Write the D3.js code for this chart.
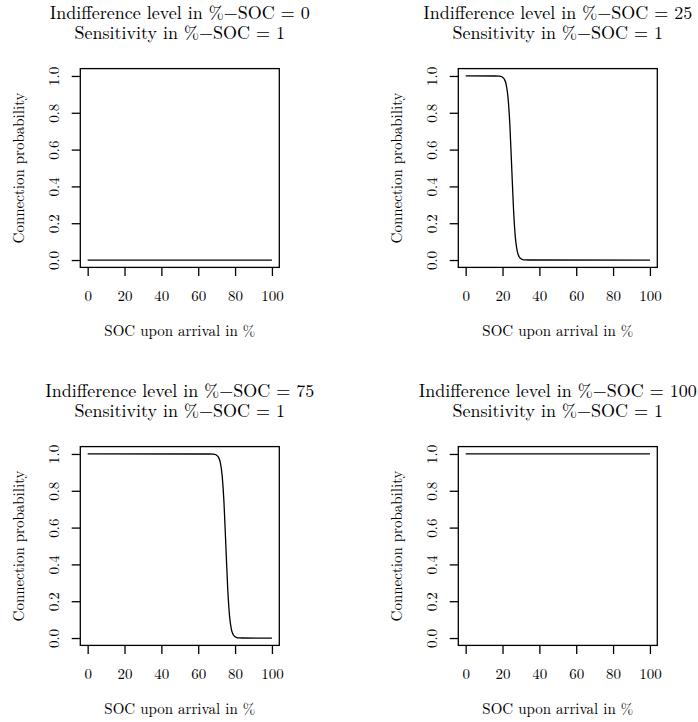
<!DOCTYPE html>
<html>
<head>
<meta charset="utf-8">
<script src="https://cdn.jsdelivr.net/npm/d3@7"></script>
<style>
  html, body { margin: 0; padding: 0; background: #fff; }
  svg { display: block; }
</style>
</head>
<body>
<svg id="chart" width="698" height="722"></svg>
<script>
// ---- data ----
const indifferenceLevels = [0, 25, 75, 100];
const sensitivities = [1, 1, 1, 1];
const xTicks = [0, 20, 40, 60, 80, 100];
const yTicks = [0.0, 0.2, 0.4, 0.6, 0.8, 1.0];
const yTickLabels = ["0.0", "0.2", "0.4", "0.6", "0.8", "1.0"];

const soc0 = [0, 100];
const prob0 = [0, 0];

const soc25 = [0, 16, 18, 19, 20, 21, 22, 23, 24, 25, 26, 27, 28, 29, 30, 31, 32, 34, 100];
const prob25 = [1, 0.9999, 0.999, 0.9975, 0.993, 0.982, 0.953, 0.881, 0.731, 0.5, 0.269, 0.119, 0.047, 0.018, 0.007, 0.0025, 0.001, 0.0001, 0];

const soc75 = [0, 66, 68, 69, 70, 71, 72, 73, 74, 75, 76, 77, 78, 79, 80, 81, 82, 84, 100];
const prob75 = [1, 0.9999, 0.999, 0.9975, 0.993, 0.982, 0.953, 0.881, 0.731, 0.5, 0.269, 0.119, 0.047, 0.018, 0.007, 0.0025, 0.001, 0.0001, 0];

const soc100 = [0, 100];
const prob100 = [1, 1];

const panels = [
  { level: indifferenceLevels[0], sens: sensitivities[0], xs: soc0, ys: prob0 },
  { level: indifferenceLevels[1], sens: sensitivities[1], xs: soc25, ys: prob25 },
  { level: indifferenceLevels[2], sens: sensitivities[2], xs: soc75, ys: prob75 },
  { level: indifferenceLevels[3], sens: sensitivities[3], xs: soc100, ys: prob100 }
];

// ---- layout ----
const FONT = "'Latin Modern Roman', 'Liberation Serif', serif";
const svg = d3.select("#chart");
const colOffset = [0, 378];
const rowOffset = [0, 378];
const plotLeft = 80.3, plotRight = 279.3, plotTop = 68.6, plotBottom = 267.4;
const baseFont = 15, titleFont = 18;

const x = d3.scaleLinear().domain([-4, 104]).range([plotLeft, plotRight]);
const y = d3.scaleLinear().domain([-0.04, 1.04]).range([plotBottom, plotTop]);

function styleText(sel, size) {
  return sel.style("font-family", FONT).style("font-size", size + "px").style("fill", "#000");
}

panels.forEach((p, i) => {
  const g = svg.append("g")
    .attr("transform", `translate(${colOffset[i % 2]},${rowOffset[Math.floor(i / 2)]})`);

  // titles
  const cx = (plotLeft + plotRight) / 2;
  styleText(g.append("text").attr("x", cx).attr("y", 19.2).attr("text-anchor", "middle"), titleFont)
    .text(`Indifference level in %\u2212SOC = ${p.level}`);
  styleText(g.append("text").attr("x", cx).attr("y", 39.4).attr("text-anchor", "middle"), titleFont)
    .text(`Sensitivity in %\u2212SOC = ${p.sens}`);

  // curve
  const line = d3.line().x((d, k) => x(p.xs[k])).y(d => y(d)).curve(d3.curveMonotoneX);
  g.append("path").datum(p.ys).attr("d", line)
    .attr("fill", "none").attr("stroke", "#000").attr("stroke-width", 1.3);

  // box
  g.append("rect").attr("x", plotLeft).attr("y", plotTop)
    .attr("width", plotRight - plotLeft).attr("height", plotBottom - plotTop)
    .attr("fill", "none").attr("stroke", "#000").attr("stroke-width", 1.3);

  // x axis
  const xa = g.append("g").attr("transform", `translate(0,${plotBottom})`)
    .call(d3.axisBottom(x).tickValues(xTicks).tickSize(8.6).tickFormat(d3.format("d")));
  xa.select(".domain").remove();
  xa.selectAll(".tick line").attr("stroke", "#000").attr("stroke-width", 1.3);
  styleText(xa.selectAll("text").attr("y", 33.2).attr("dy", 0), baseFont);

  // y axis
  const ya = g.append("g").attr("transform", `translate(${plotLeft},0)`)
    .call(d3.axisLeft(y).tickValues(yTicks).tickSize(8.6).tickFormat((d, k) => yTickLabels[k]));
  ya.select(".domain").remove();
  ya.selectAll(".tick line").attr("stroke", "#000").attr("stroke-width", 1.3);
  styleText(ya.selectAll("text").attr("x", 0).attr("y", 0).attr("dy", 0)
    .attr("text-anchor", "middle")
    .attr("transform", "translate(-21.3,0) rotate(-90)"), baseFont);

  // axis labels
  styleText(g.append("text").attr("x", cx).attr("y", 335.5).attr("text-anchor", "middle"), baseFont)
    .text("SOC upon arrival in %");
  styleText(g.append("text").attr("text-anchor", "middle")
    .attr("transform", `translate(24,${(plotTop + plotBottom) / 2}) rotate(-90)`), baseFont)
    .text("Connection probability");
});
</script>
</body>
</html>
